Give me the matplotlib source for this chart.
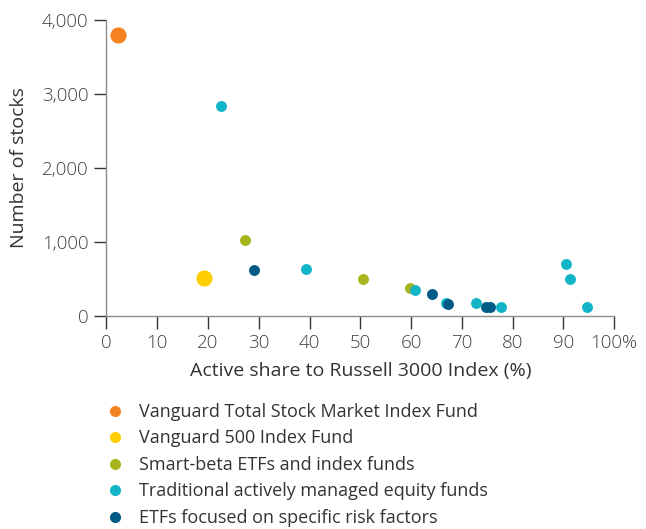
import matplotlib
matplotlib.use("Agg")
import matplotlib.pyplot as plt
from matplotlib.lines import Line2D

plt.rcParams['font.family'] = ['Open Sans', 'DejaVu Sans']

categories = [
    "Vanguard Total Stock Market Index Fund",
    "Vanguard 500 Index Fund",
    "Smart-beta ETFs and index funds",
    "Traditional actively managed equity funds",
    "ETFs focused on specific risk factors",
]
colors = ["#F58220", "#FFCD00", "#A8B51F", "#12B5C6", "#005B87"]

total_x = [2.2]
total_y = [3800]
sp500_x = [19.2]
sp500_y = [510]
smart_x = [27.2, 50.6, 59.8]
smart_y = [1030, 500, 380]
trad_x = [22.5, 39.4, 60.7, 66.9, 72.8, 77.8, 90.6, 91.3, 94.7]
trad_y = [2840, 635, 350, 180, 180, 126, 698, 496, 126]
etf_x = [29.0, 64.1, 67.2, 74.7, 75.5]
etf_y = [625, 300, 158, 126, 126]

xticks = list(range(0, 101, 10))
xticklabels = [str(t) for t in xticks[:-1]] + ["100%"]
yticks = [0, 1000, 2000, 3000, 4000]
yticklabels = ["0", "1,000", "2,000", "3,000", "4,000"]

fig = plt.figure(figsize=(6.46, 5.29), dpi=100)
ax = fig.add_axes([106.5 / 646, 1 - 316 / 529, 507.5 / 646, 296 / 529])

big = 135
small = 62
ax.scatter(trad_x, trad_y, s=small, color=colors[3], linewidths=0, zorder=3, clip_on=False)
ax.scatter(etf_x, etf_y, s=small, color=colors[4], linewidths=0, zorder=4, clip_on=False)
ax.scatter(smart_x, smart_y, s=small, color=colors[2], linewidths=0, zorder=2, clip_on=False)
ax.scatter(sp500_x, sp500_y, s=big, color=colors[1], linewidths=0, zorder=3, clip_on=False)
ax.scatter(total_x, total_y, s=big, color=colors[0], linewidths=0, zorder=3, clip_on=False)

ax.set_xlim(0, 100)
ax.set_ylim(0, 4000)
ax.set_xticks(xticks)
ax.set_xticklabels(xticklabels)
ax.set_yticks(yticks)
ax.set_yticklabels(yticklabels)
for s in ["top", "right"]:
    ax.spines[s].set_visible(False)
for s in ["left", "bottom"]:
    ax.spines[s].set_color("#8c8c8c")
    ax.spines[s].set_linewidth(1.0)
ax.tick_params(axis="both", colors="#333333", labelsize=13.5, length=9, width=1.0, direction="out")
ax.tick_params(axis="y", pad=4)
ax.tick_params(axis="x", pad=4)
for lab in ax.get_xticklabels() + ax.get_yticklabels():
    lab.set_color("#404040")
    lab.set_fontweight("light")

ax.set_xlabel("Active share to Russell 3000 Index (%)", fontsize=14, color="#333333", labelpad=7)
ax.set_ylabel("Number of stocks", fontsize=14, color="#333333", labelpad=10)

handles = [Line2D([0], [0], marker="o", linestyle="none", markersize=8,
                  markerfacecolor=c, markeredgewidth=0) for c in colors]
leg = fig.legend(handles, categories, loc="upper left", bbox_to_anchor=(0.153, 0.252),
                 frameon=False, fontsize=13, handletextpad=0.8, labelspacing=0.47,
                 handlelength=1.0, borderaxespad=0)
for t in leg.get_texts():
    t.set_color("#333333")

fig.savefig("out.png", dpi=100)
